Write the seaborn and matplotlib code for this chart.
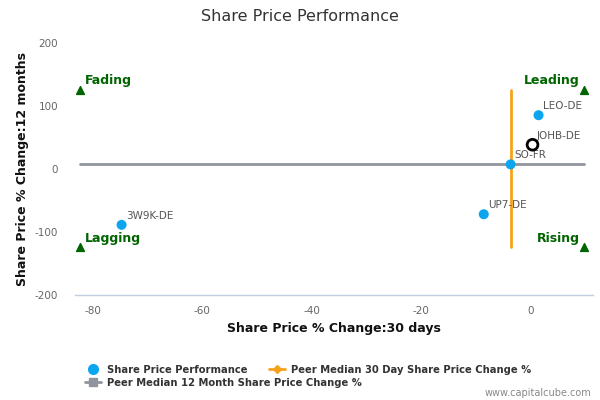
import matplotlib
matplotlib.use("Agg")
import matplotlib.pyplot as plt
import seaborn as sns
import pandas as pd
from matplotlib.lines import Line2D

# ---- data ----
tickers = ["3W9K-DE", "UP7-DE", "SO-FR", "LEO-DE"]
chg_30d = [-74.7, -8.6, -3.7, 1.4]
chg_12m = [-88.6, -71.8, 7.3, 85.4]

company = "JOHB-DE"
company_30d = 0.3
company_12m = 38.5

median_30d = -3.6
median_12m = 7.3
# extents of the median lines / quadrant markers
quad_x = [-82.2, 9.7]
quad_y = [-124.0, 125.5]
quad_names = ["Lagging", "Fading", "Rising", "Leading"]

xticks = [-80, -60, -40, -20, 0]
yticks = [-200, -100, 0, 100, 200]

# ---- styling ----
sns.set_style("white")
plt.rcParams["font.family"] = ["DejaVu Sans"]
plt.rcParams["axes.unicode_minus"] = False

blue = "#0ea5ef"
orange = "#f7a21b"
grey = "#8f949e"
green = "#006400"

fig = plt.figure(figsize=(6, 4), dpi=100)
ax = fig.add_axes([0.125, 0.2625, 0.863, 0.63])

# median lines
ax.plot(quad_x, [median_12m, median_12m], color=grey, lw=2, zorder=1)
ax.plot([median_30d, median_30d], quad_y, color=orange, lw=2, zorder=1)

# peers
df = pd.DataFrame({"ticker": tickers, "x": chg_30d, "y": chg_12m})
sns.scatterplot(data=df, x="x", y="y", ax=ax, color=blue, s=52,
                edgecolor="none", zorder=3, legend=False)
for t, x, y in zip(tickers, chg_30d, chg_12m):
    ax.annotate(t, (x, y), xytext=(3, 6.5), textcoords="offset points",
                fontsize=7.5, color="#555555", va="center")

# the company itself
ax.scatter([company_30d], [company_12m], s=60, facecolor="none",
           edgecolor="black", linewidths=2, zorder=4)
ax.annotate(company, (company_30d, company_12m), xytext=(3, 6.5),
            textcoords="offset points", fontsize=7.5, color="#555555",
            va="center")

# quadrant markers
qx = [quad_x[0], quad_x[0], quad_x[1], quad_x[1]]
qy = [quad_y[0], quad_y[1], quad_y[0], quad_y[1]]
ax.scatter(qx, qy, marker="^", s=32, color=green, zorder=3)
for name, x, y in zip(quad_names, qx, qy):
    left = x < 0
    ax.annotate(name, (x, y), xytext=(3 if left else -3, 6.5),
                textcoords="offset points", ha="left" if left else "right",
                va="center", fontsize=9, fontweight="bold", color=green)

ax.set_xlim(-83.2, 11.3)
ax.set_ylim(-200, 200)
ax.set_xticks(xticks)
ax.set_yticks(yticks)
ax.tick_params(axis="x", direction="out", length=5, width=1,
               color="#c0d0e0", labelsize=7.5, labelcolor="#666666", pad=3)
ax.tick_params(axis="y", length=0, labelsize=7.5, labelcolor="#666666",
               pad=12)
for s in ["top", "right", "left"]:
    ax.spines[s].set_visible(False)
ax.spines["bottom"].set_color("#c0d0e0")
ax.spines["bottom"].set_linewidth(1)
ax.grid(False)

ax.set_xlabel("Share Price % Change:30 days", fontsize=9, fontweight="bold",
              color="#111111", labelpad=4)
ax.set_ylabel("Share Price % Change:12 months", fontsize=9,
              fontweight="bold", color="#111111", labelpad=4)

fig.text(0.5, 0.958, "Share Price Performance", ha="center", va="center",
         fontsize=11.5, color="#333333")

# legend, two rows laid out like the original
h1 = Line2D([], [], marker="o", ls="none", color=blue, markersize=7)
h2 = Line2D([], [], marker="D", color=orange, lw=2, markersize=4.5)
h3 = Line2D([], [], marker="s", color=grey, lw=2, markersize=5.5)
leg_kw = dict(frameon=False, prop={"weight": "bold", "size": 7.2},
              handlelength=1.6, handletextpad=0.6, labelcolor="#333333",
              borderaxespad=0, borderpad=0)
leg1 = fig.legend([h1, h2], ["Share Price Performance",
                             "Peer Median 30 Day Share Price Change %"],
                  loc="center left", bbox_to_anchor=(0.142, 0.076), ncol=2,
                  columnspacing=2.15, **leg_kw)
leg2 = fig.legend([h3], ["Peer Median 12 Month Share Price Change %"],
                  loc="center left", bbox_to_anchor=(0.142, 0.043), **leg_kw)

fig.text(0.985, 0.018, "www.capitalcube.com", ha="right", va="center",
         fontsize=7, color="#888888")

fig.savefig("out.png", dpi=100, facecolor="white")
